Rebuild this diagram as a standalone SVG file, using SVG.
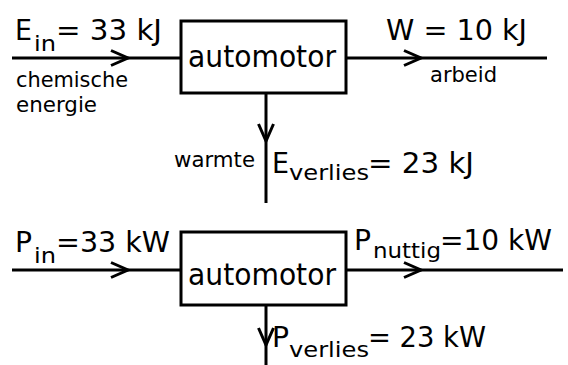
<svg xmlns="http://www.w3.org/2000/svg" width="568" height="365" viewBox="0 0 568 365">
<defs>
<marker id="chev" markerUnits="userSpaceOnUse" markerWidth="24" markerHeight="24" viewBox="-20 -12 24 24" refX="0" refY="0" orient="auto">
<polyline points="-17,-7.5 0,0 -17,7.5" fill="none" stroke="#000" stroke-width="3"/>
</marker>
</defs>
<style>
.box{fill:#fff;stroke:#000;stroke-width:3}
.ln{fill:none;stroke:#000;stroke-width:3;marker-mid:url(#chev)}
text{font-family:"DejaVu Sans","Liberation Sans",sans-serif;fill:#000}
.big{font-size:28px}
.sub{font-size:22px}
.sm{font-size:20.5px}
.lbl{font-size:31px}
</style>
<rect width="568" height="365" fill="#fff"/>
<g id="connectors">
<path class="ln" d="M12 58 L128 58 L181 58"/>
<path class="ln" d="M346 58 L421 58 L547 58"/>
<path class="ln" d="M266 93 L266 141 L266 203"/>
<path class="ln" d="M12 270 L128 270 L181 270"/>
<path class="ln" d="M346 270 L421 270 L563 270"/>
<path class="ln" d="M266 305 L266 345 L266 365"/>
</g>
<g id="motor1">
<rect class="box" x="181" y="21" width="165" height="72"/>
<text class="lbl" x="188" y="67" textLength="148" lengthAdjust="spacingAndGlyphs">automotor</text>
</g>
<g id="motor2">
<rect class="box" x="181" y="232" width="165" height="73"/>
<text class="lbl" x="188" y="285" textLength="148" lengthAdjust="spacingAndGlyphs">automotor</text>
</g>
<g id="ein">
<text class="big" x="15" y="40" textLength="17" lengthAdjust="spacingAndGlyphs">E</text>
<text class="sub" x="34" y="51" textLength="22" lengthAdjust="spacingAndGlyphs">in</text>
<text class="big" x="56" y="40" textLength="106" lengthAdjust="spacingAndGlyphs">= 33 kJ</text>
<text class="sm" x="16" y="87" textLength="112" lengthAdjust="spacingAndGlyphs">chemische</text>
<text class="sm" x="16" y="112" textLength="81" lengthAdjust="spacingAndGlyphs">energie</text>
</g>
<g id="w">
<text class="big" x="386" y="40" textLength="141" lengthAdjust="spacingAndGlyphs">W = 10 kJ</text>
<text class="sm" x="430" y="82" textLength="67" lengthAdjust="spacingAndGlyphs">arbeid</text>
</g>
<g id="everlies">
<text class="sm" x="174" y="167" textLength="81" lengthAdjust="spacingAndGlyphs">warmte</text>
<text class="big" x="272" y="173" textLength="17" lengthAdjust="spacingAndGlyphs">E</text>
<text class="sub" x="289" y="180" textLength="80" lengthAdjust="spacingAndGlyphs">verlies</text>
<text class="big" x="368" y="173" textLength="106" lengthAdjust="spacingAndGlyphs">= 23 kJ</text>
</g>
<g id="pin">
<text class="big" x="15" y="252" textLength="17" lengthAdjust="spacingAndGlyphs">P</text>
<text class="sub" x="34" y="263" textLength="22" lengthAdjust="spacingAndGlyphs">in</text>
<text class="big" x="56" y="252" textLength="114" lengthAdjust="spacingAndGlyphs">=33 kW</text>
</g>
<g id="pnuttig">
<text class="big" x="354" y="250" textLength="17" lengthAdjust="spacingAndGlyphs">P</text>
<text class="sub" x="373" y="258" textLength="68" lengthAdjust="spacingAndGlyphs">nuttig</text>
<text class="big" x="440" y="250" textLength="112" lengthAdjust="spacingAndGlyphs">=10 kW</text>
</g>
<g id="pverlies">
<text class="big" x="272" y="347" textLength="17" lengthAdjust="spacingAndGlyphs">P</text>
<text class="sub" x="289" y="357" textLength="80" lengthAdjust="spacingAndGlyphs">verlies</text>
<text class="big" x="368" y="347" textLength="118" lengthAdjust="spacingAndGlyphs">= 23 kW</text>
</g>
</svg>
